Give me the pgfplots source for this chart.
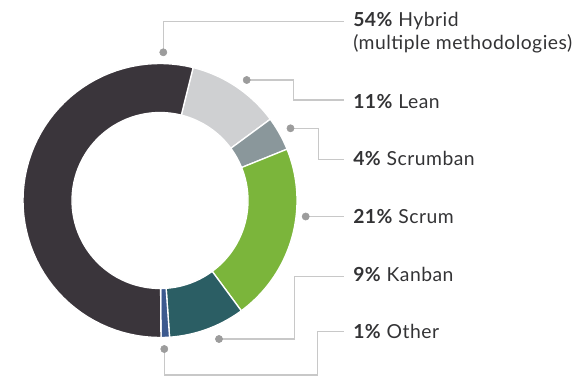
\documentclass[border=0pt]{standalone}
\usepackage{pgfplots}
\pgfplotsset{compat=1.18}
\usepackage{fontspec}
\setmainfont{Lato}[LetterSpace=2.5]
\definecolor{hyb}{HTML}{3A353B}
\definecolor{lean}{HTML}{CFD0D2}
\definecolor{scrumban}{HTML}{8A979B}
\definecolor{scrum}{HTML}{7BB53B}
\definecolor{kanban}{HTML}{2B5E64}
\definecolor{other}{HTML}{3D5A8F}
\definecolor{conn}{HTML}{C8C8C8}
\definecolor{dotc}{HTML}{9C9C9C}
\definecolor{txt}{HTML}{333335}
% ring segment between cumulative percentages #1 and #2 (clockwise from 14 deg past the top)
\newcommand{\seg}[3]{%
 \addplot[fill=#3, draw=white, line width=1pt, domain=0:2, samples=121, variable=\t]
 ({160 + (\t<1.008 ? 137 : 88)*sin(\t<1.008 ? 14+3.6*(#1+(#2-#1)*min(\t,1)) : 14+3.6*(#2-(#2-#1)*(\t-1-1/60)*60/59))},
  {-200.5 + (\t<1.008 ? 137 : 88)*cos(\t<1.008 ? 14+3.6*(#1+(#2-#1)*min(\t,1)) : 14+3.6*(#2-(#2-#1)*(\t-1-1/60)*60/59))}) -- cycle;}
\begin{document}
\begin{tikzpicture}
\begin{axis}[hide axis, scale only axis, width=439.5pt, height=291.75pt,
  xmin=0, xmax=586, ymin=-389, ymax=0, clip=false]
\addplot[draw=none] coordinates {(0,0) (586,-389)};
% shares (%): Lean 11, Scrumban 4, Scrum 21, Kanban 9, Other 1, Hybrid 54
\seg{0}{11}{lean}
\seg{11}{15}{scrumban}
\seg{15}{36}{scrum}
\seg{36}{45}{kanban}
\seg{45}{46}{other}
\seg{46}{100}{hyb}
% connectors
\addplot[conn, line width=1.1pt] coordinates {(163.3,-52.3) (163.3,-21.7) (344,-21.7)};
\addplot[conn, line width=1.1pt] coordinates {(246.7,-80) (293.3,-80) (293.3,-100) (344,-100)};
\addplot[conn, line width=1.1pt] coordinates {(290.5,-128.3) (318.3,-128.3) (318.3,-159.3) (344,-159.3)};
\addplot[conn, line width=1.1pt] coordinates {(305.7,-216.5) (344,-216.5)};
\addplot[conn, line width=1.1pt] coordinates {(219,-339) (294.3,-339) (294.3,-276.5) (344,-276.5)};
\addplot[conn, line width=1.1pt] coordinates {(164.3,-349) (164.3,-375) (317.3,-375) (317.3,-331.5) (344,-331.5)};
\addplot[only marks, mark=*, mark size=2.7pt, dotc] coordinates {(163.3,-52.3) (246.7,-80) (290.5,-128.3) (305.7,-216.5) (219,-339) (164.3,-349)};
% labels
\begin{scope}[every node/.style={anchor=base west, inner sep=0pt, text=txt, font=\fontsize{14.5pt}{17pt}\selectfont}]
\node at (axis cs:353,-26.7) {\textbf{54\%} Hybrid};
\node at (axis cs:353,-49) {(multiple methodologies)};
\node at (axis cs:353,-108.3) {\textbf{11\%} Lean};
\node at (axis cs:353,-165.7) {\textbf{4\%} Scrumban};
\node at (axis cs:353,-223.3) {\textbf{21\%} Scrum};
\node at (axis cs:353,-281.7) {\textbf{9\%} Kanban};
\node at (axis cs:353,-338.3) {\textbf{1\%} Other};
\end{scope}
\end{axis}
\end{tikzpicture}
\end{document}
